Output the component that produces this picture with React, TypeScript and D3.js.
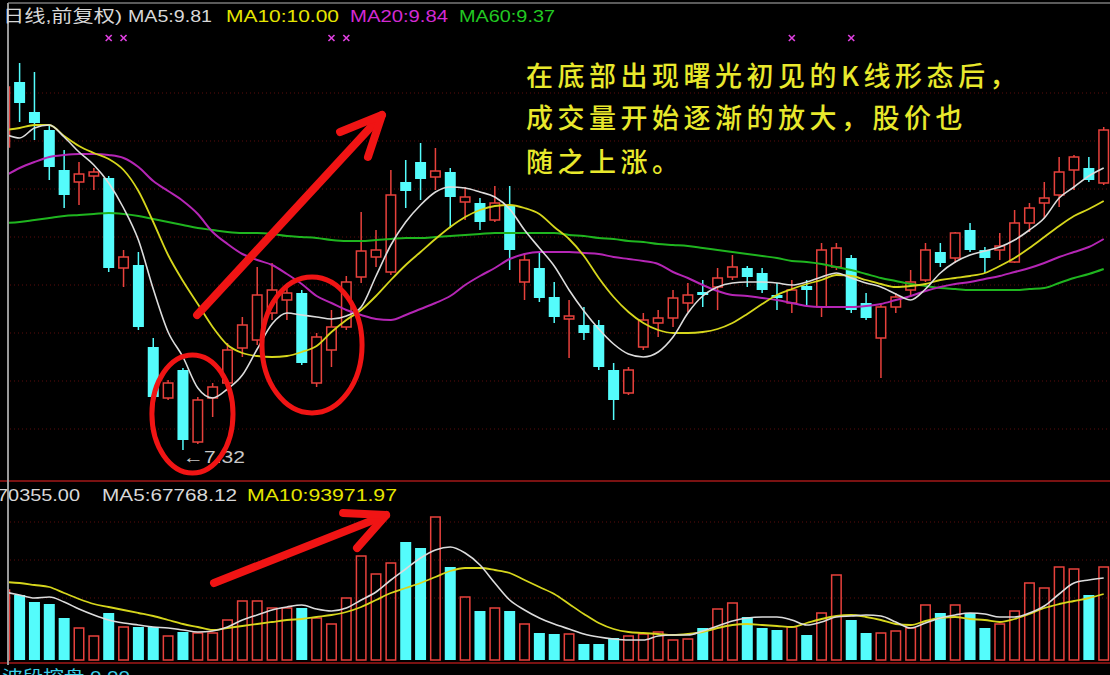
import React, { useEffect, useRef } from 'react';
import * as d3 from 'd3';

// daily bars, oldest first (the first one is cut off by the left frame)
const opens = [10.35, 11.0, 10.7, 10.52, 10.12, 10.0, 10.06, 10.04, 9.14, 9.17, 8.35, 7.84, 8.12, 7.4, 7.84, 7.99, 8.34, 8.42, 8.69, 8.82, 8.89, 7.99, 8.32, 8.55, 9.05, 9.25, 9.1, 10.0, 10.2, 10.05, 10.1, 9.8, 9.79, 9.62, 9.77, 9.0, 9.14, 8.85, 8.63, 8.57, 8.57, 8.12, 7.89, 8.35, 8.59, 8.64, 8.79, 8.9, 8.95, 9.05, 9.14, 9.09, 8.87, 8.79, 8.96, 8.75, 9.15, 9.24, 8.79, 8.44, 8.75, 8.92, 9.02, 9.3, 9.24, 9.52, 9.32, 9.32, 9.2, 9.59, 9.79, 9.87, 10.12, 10.14, 9.99];
const highs = [10.97, 11.19, 11.1, 10.57, 10.32, 10.2, 10.14, 10.06, 9.32, 9.3, 8.44, 8.02, 8.14, 7.85, 7.99, 8.39, 8.65, 9.15, 9.19, 8.95, 8.92, 8.49, 8.72, 9.06, 9.7, 9.52, 10.12, 10.22, 10.39, 10.34, 10.14, 9.95, 9.84, 9.96, 9.96, 9.29, 9.29, 9.0, 8.82, 8.75, 8.62, 8.19, 8.15, 8.69, 8.72, 8.92, 8.99, 9.02, 9.14, 9.27, 9.16, 9.14, 8.99, 9.02, 9.02, 9.39, 9.39, 9.27, 8.89, 8.77, 8.89, 9.12, 9.39, 9.39, 9.5, 9.59, 9.35, 9.49, 9.72, 9.79, 10.0, 10.25, 10.27, 10.25, 10.55];
const lows = [10.32, 10.6, 10.42, 10.02, 9.74, 9.77, 9.92, 9.1, 8.95, 8.52, 7.84, 7.82, 7.32, 7.38, 7.65, 7.95, 8.25, 8.37, 8.62, 8.62, 8.17, 7.95, 8.15, 8.52, 8.99, 9.15, 9.07, 9.74, 9.82, 9.92, 9.54, 9.62, 9.52, 9.6, 9.12, 8.82, 8.8, 8.59, 8.24, 8.42, 8.12, 7.62, 7.87, 8.32, 8.45, 8.55, 8.7, 8.75, 8.72, 9.02, 8.95, 8.89, 8.72, 8.69, 8.75, 8.65, 9.12, 8.69, 8.62, 8.04, 8.69, 8.85, 9.0, 9.15, 9.19, 9.3, 9.09, 9.22, 9.19, 9.5, 9.64, 9.75, 9.92, 10.0, 9.97];
const closes = [10.95, 10.79, 10.59, 10.15, 9.87, 10.08, 10.1, 9.14, 9.25, 8.55, 7.85, 7.99, 7.42, 7.82, 7.95, 8.32, 8.57, 8.87, 8.92, 8.89, 8.19, 8.45, 8.55, 9.0, 9.31, 9.32, 9.87, 9.91, 10.03, 10.11, 9.85, 9.85, 9.6, 9.79, 9.32, 9.22, 8.84, 8.65, 8.66, 8.49, 8.15, 7.82, 8.12, 8.62, 8.64, 8.84, 8.87, 8.87, 9.04, 9.15, 9.05, 8.92, 8.84, 8.92, 8.92, 9.32, 9.34, 8.72, 8.64, 8.75, 8.85, 9.0, 9.32, 9.19, 9.49, 9.32, 9.24, 9.36, 9.59, 9.74, 9.84, 10.1, 10.25, 10.02, 10.52];
const volumes = [105000, 97500, 87000, 84000, 63000, 48000, 36000, 70500, 49500, 49500, 49500, 36000, 42000, 40500, 40500, 60000, 88500, 88500, 78000, 78000, 78000, 63000, 54000, 93000, 156000, 129000, 145500, 177000, 168000, 214500, 139500, 94500, 73500, 78000, 73500, 54000, 40500, 39000, 39000, 24000, 24000, 33000, 36000, 39000, 42000, 30000, 31500, 48000, 76500, 85500, 64500, 48000, 45000, 49500, 37500, 70500, 127500, 60000, 40500, 40500, 43500, 48000, 82500, 70500, 82500, 70500, 48000, 54000, 73500, 115500, 108000, 139500, 136500, 97500, 139500];

// moving averages
const ma5 = [10.48, 10.44, 10.54, 10.57, 10.45, 10.3, 10.17, 9.99, 9.74, 9.42, 8.93, 8.5, 8.25, 7.94, 7.84, 7.93, 8.07, 8.33, 8.58, 8.69, 8.67, 8.65, 8.63, 8.66, 8.75, 9.06, 9.37, 9.6, 9.77, 9.9, 9.95, 9.94, 9.9, 9.85, 9.73, 9.52, 9.34, 9.16, 8.92, 8.71, 8.53, 8.38, 8.28, 8.25, 8.3, 8.45, 8.69, 8.86, 8.95, 8.99, 9.0, 9.0, 8.99, 8.97, 9.0, 9.05, 9.09, 9.04, 8.99, 8.95, 8.88, 8.82, 8.93, 9.09, 9.2, 9.27, 9.31, 9.35, 9.42, 9.52, 9.64, 9.84, 9.95, 10.06, 10.14];
const ma10 = [10.52, 10.54, 10.57, 10.57, 10.46, 10.36, 10.29, 10.23, 10.12, 9.91, 9.6, 9.27, 9.01, 8.78, 8.55, 8.37, 8.29, 8.26, 8.25, 8.26, 8.3, 8.36, 8.5, 8.62, 8.72, 8.86, 9.02, 9.17, 9.3, 9.43, 9.55, 9.65, 9.72, 9.76, 9.77, 9.74, 9.68, 9.55, 9.43, 9.26, 9.04, 8.85, 8.7, 8.59, 8.52, 8.49, 8.49, 8.5, 8.53, 8.59, 8.68, 8.78, 8.87, 8.93, 8.98, 9.02, 9.07, 9.06, 9.02, 8.98, 8.95, 8.96, 8.98, 9.02, 9.04, 9.06, 9.09, 9.16, 9.24, 9.34, 9.45, 9.56, 9.66, 9.73, 9.81];
const ma20 = [10.06, 10.14, 10.2, 10.25, 10.27, 10.28, 10.28, 10.27, 10.24, 10.15, 10.01, 9.91, 9.81, 9.68, 9.5, 9.38, 9.28, 9.22, 9.17, 9.08, 8.98, 8.86, 8.79, 8.72, 8.67, 8.63, 8.62, 8.67, 8.73, 8.79, 8.86, 8.97, 9.06, 9.14, 9.23, 9.28, 9.3, 9.3, 9.3, 9.29, 9.28, 9.25, 9.23, 9.21, 9.18, 9.1, 9.04, 8.97, 8.91, 8.87, 8.86, 8.84, 8.82, 8.79, 8.76, 8.75, 8.75, 8.75, 8.76, 8.78, 8.82, 8.86, 8.91, 8.95, 8.98, 9.0, 9.03, 9.06, 9.1, 9.14, 9.19, 9.25, 9.3, 9.35, 9.43];
const ma60 = [9.59, 9.6, 9.62, 9.64, 9.66, 9.67, 9.68, 9.69, 9.68, 9.66, 9.63, 9.6, 9.57, 9.54, 9.52, 9.5, 9.49, 9.49, 9.48, 9.46, 9.45, 9.44, 9.42, 9.41, 9.41, 9.42, 9.43, 9.44, 9.44, 9.45, 9.46, 9.47, 9.48, 9.49, 9.49, 9.49, 9.49, 9.49, 9.47, 9.46, 9.44, 9.43, 9.41, 9.4, 9.38, 9.37, 9.36, 9.34, 9.32, 9.3, 9.28, 9.26, 9.24, 9.21, 9.2, 9.18, 9.15, 9.12, 9.08, 9.04, 9.01, 8.98, 8.96, 8.94, 8.93, 8.92, 8.92, 8.92, 8.92, 8.93, 8.94, 8.99, 9.04, 9.08, 9.13];
const volMa5 = [102000, 97500, 93000, 94500, 87000, 76500, 67500, 60000, 55500, 52500, 49500, 48000, 45000, 42000, 43500, 49500, 60000, 67500, 75000, 79500, 82500, 76500, 73500, 78000, 90000, 102000, 120000, 136500, 153000, 165000, 169500, 160500, 142500, 115500, 90000, 75000, 63000, 54000, 46500, 39000, 34500, 31500, 30000, 30000, 36000, 37500, 37500, 43500, 51000, 58500, 63000, 64500, 64500, 60000, 52500, 57000, 64500, 66000, 67500, 66000, 57000, 48000, 55500, 63000, 67500, 70500, 69000, 64500, 64500, 70500, 81000, 99000, 115500, 120000, 123000];
const volMa10 = [117000, 115500, 112500, 109500, 100500, 91500, 84000, 79500, 75000, 70500, 66000, 60000, 54000, 49500, 45000, 48000, 51000, 54000, 57000, 60000, 61500, 64500, 67500, 72000, 79500, 90000, 100500, 108000, 115500, 124500, 133500, 138000, 138000, 135000, 130500, 120000, 109500, 99000, 84000, 69000, 55500, 46500, 42000, 40500, 39000, 37500, 39000, 42000, 48000, 52500, 54000, 52500, 51000, 49500, 55500, 61500, 66000, 67500, 64500, 60000, 54000, 52500, 58500, 63000, 64500, 61500, 60000, 57000, 61500, 69000, 78000, 84000, 88500, 93000, 99000];

const title = '日线,前复权)';
const priceLegend = ['MA5:9.81', 'MA10:10.00', 'MA20:9.84', 'MA60:9.37'];
const volLegend = ['70355.00', 'MA5:67768.12', 'MA10:93971.97'];
const bottomLabel = '波段控盘 0.00';
const signalBars = [7, 8, 22, 23, 53, 57];
const lowBar = 12;
const lowLabel = '←7.32';
const gridPrices = [10.89, 10.41, 9.93, 9.45, 8.97, 8.49, 8.01, 7.53];
const gridVolumes = [207000, 150000, 93000];
const noteLines = ['在底部出现曙光初见的K线形态后，', '成交量开始逐渐的放大，股价也', '随之上涨。'];

// hand-drawn marks, in bar index / price (or volume) units
const rings = [
  { bar: 12.64, price: 7.68, rBars: 2.73, rPrice: 0.59 },
  { bar: 20.69, price: 8.37, rBars: 3.37, rPrice: 0.68 },
];
const priceArrow = { from: [12.95, 8.67], to: [25.4, 10.67], wingA: [22.58, 10.5], wingB: [24.46, 10.25] };
const volArrow = { from: [14.09, 115500], to: [25.68, 217500], wingA: [22.78, 220500], wingB: [23.72, 168000] };

const App: React.FC = () => {
  const d3Container = useRef<SVGSVGElement>(null);

  useEffect(() => {
    if (!d3Container.current) return;
    const svg = d3.select(d3Container.current);
    svg.selectAll('*').remove();

    const width = 1110;
    const height = 675;
    const upColor = '#e8413c';
    const downColor = '#54fcfc';
    const n = closes.length;
    const bodyW = 11;
    const latin = '"Liberation Sans", Arial, "Noto Sans CJK SC", sans-serif';

    // scales
    const x = d3.scaleLinear().domain([0, n - 1]).range([4.75, 1103.7]);
    const y = d3.scaleLinear().domain([7.02, 11.52]).range([480, 30]);
    const yVol = d3.scaleLinear().domain([0, 265500]).range([660, 483]);

    svg.append('rect').attr('width', width).attr('height', height).attr('fill', '#000');

    const defs = svg.append('defs');
    defs.append('clipPath').attr('id', 'clip-price')
      .append('rect').attr('x', 9).attr('y', 26).attr('width', width - 9).attr('height', 454);
    defs.append('clipPath').attr('id', 'clip-vol')
      .append('rect').attr('x', 9).attr('y', 483).attr('width', width - 9).attr('height', 179);

    // dotted grid
    const grid = svg.append('g').attr('stroke', '#5c0c0c').attr('stroke-dasharray', '1,3');
    gridPrices.forEach((p) => {
      grid.append('line').attr('x1', 10).attr('x2', width).attr('y1', y(p)).attr('y2', y(p));
    });
    gridVolumes.forEach((v) => {
      grid.append('line').attr('x1', 10).attr('x2', width).attr('y1', yVol(v)).attr('y2', yVol(v));
    });

    // frame
    svg.append('line').attr('x1', 8).attr('x2', width).attr('y1', 3).attr('y2', 3)
      .attr('stroke', '#7a7a7a').attr('stroke-width', 1.5);
    svg.append('line').attr('x1', 0).attr('x2', width).attr('y1', 481).attr('y2', 481)
      .attr('stroke', '#7a1212').attr('stroke-width', 2);
    svg.append('line').attr('x1', 0).attr('x2', width).attr('y1', 663).attr('y2', 663)
      .attr('stroke', '#7a1212').attr('stroke-width', 2);

    const bars = d3.range(n).map((i) => ({
      i,
      o: opens[i],
      h: highs[i],
      l: lows[i],
      c: closes[i],
      v: volumes[i],
      up: closes[i] >= opens[i],
    }));

    // candles
    const pricePane = svg.append('g').attr('clip-path', 'url(#clip-price)');
    bars.forEach((d) => {
      const cx = x(d.i);
      const top = y(Math.max(d.o, d.c));
      const bottom = y(Math.min(d.o, d.c));
      const bodyH = Math.max(bottom - top, 1.5);
      if (d.up) {
        pricePane.append('line').attr('x1', cx).attr('x2', cx).attr('y1', y(d.h)).attr('y2', top)
          .attr('stroke', upColor).attr('stroke-width', 1.5);
        pricePane.append('line').attr('x1', cx).attr('x2', cx).attr('y1', top + bodyH).attr('y2', y(d.l))
          .attr('stroke', upColor).attr('stroke-width', 1.5);
        pricePane.append('rect')
          .attr('x', cx - bodyW / 2 + 0.75).attr('y', top)
          .attr('width', bodyW - 1.5).attr('height', bodyH)
          .attr('fill', '#000').attr('stroke', upColor).attr('stroke-width', 1.5);
      } else {
        pricePane.append('line').attr('x1', cx).attr('x2', cx).attr('y1', y(d.h)).attr('y2', y(d.l))
          .attr('stroke', downColor).attr('stroke-width', 1.5);
        pricePane.append('rect')
          .attr('x', cx - bodyW / 2).attr('y', top)
          .attr('width', bodyW).attr('height', bodyH)
          .attr('fill', downColor);
      }
    });

    // moving averages
    const priceLine = d3.line<number>().x((_, i) => x(i)).y((d) => y(d)).curve(d3.curveMonotoneX);
    const maSeries: [number[], string, number][] = [
      [ma60, '#1fb51f', 2],
      [ma20, '#b526b5', 2],
      [ma10, '#d6d61c', 1.8],
      [ma5, '#dcdcdc', 1.6],
    ];
    maSeries.forEach(([vals, color, w]) => {
      pricePane.append('path').attr('d', priceLine(vals)).attr('fill', 'none')
        .attr('stroke', color).attr('stroke-width', w);
    });

    // volume bars
    const volPane = svg.append('g').attr('clip-path', 'url(#clip-vol)');
    bars.forEach((d) => {
      const cx = x(d.i);
      const top = yVol(d.v);
      if (d.up) {
        volPane.append('rect')
          .attr('x', cx - bodyW / 2 + 0.75).attr('y', top)
          .attr('width', bodyW - 1.5).attr('height', yVol(0) - top)
          .attr('fill', 'none').attr('stroke', upColor).attr('stroke-width', 1.5);
      } else {
        volPane.append('rect')
          .attr('x', cx - bodyW / 2).attr('y', top)
          .attr('width', bodyW).attr('height', yVol(0) - top)
          .attr('fill', downColor);
      }
    });
    const volLine = d3.line<number>().x((_, i) => x(i)).y((d) => yVol(d)).curve(d3.curveMonotoneX);
    volPane.append('path').attr('d', volLine(volMa10)).attr('fill', 'none')
      .attr('stroke', '#d6d61c').attr('stroke-width', 1.8);
    volPane.append('path').attr('d', volLine(volMa5)).attr('fill', 'none')
      .attr('stroke', '#dcdcdc').attr('stroke-width', 1.6);

    // left frame line on top of the cut bar
    svg.append('line').attr('x1', 8).attr('x2', 8).attr('y1', 3).attr('y2', 665)
      .attr('stroke', '#9a9a9a').attr('stroke-width', 2);

    // signal marks
    signalBars.forEach((b) => {
      const cx = x(b);
      svg.append('path')
        .attr('d', `M${cx - 3},35 L${cx + 3},41 M${cx + 3},35 L${cx - 3},41`)
        .attr('stroke', '#e040e0').attr('stroke-width', 1.6);
    });

    // headers
    const header = (txt: string, tx: number, ty: number, w: number, color: string) => {
      svg.append('text').attr('x', tx).attr('y', ty).text(txt)
        .attr('fill', color).attr('font-size', 17).attr('font-family', latin)
        .attr('textLength', w).attr('lengthAdjust', 'spacingAndGlyphs');
    };
    header(title, 3, 22, 119, '#d8d8d8');
    header(priceLegend[0], 128, 22, 84, '#d8d8d8');
    header(priceLegend[1], 226, 22, 113, '#e6e600');
    header(priceLegend[2], 350, 22, 98, '#d22ad2');
    header(priceLegend[3], 459, 22, 96, '#22c822');
    header(volLegend[0], -3, 501, 83, '#d8d8d8');
    header(volLegend[1], 102, 501, 135, '#d8d8d8');
    header(volLegend[2], 247, 501, 150, '#e6e600');
    header(bottomLabel, 2, 683, 128, '#3cd0e8');

    // lowest price label
    svg.append('text').attr('x', x(lowBar)).attr('y', y(lows[lowBar]) + 13).text(lowLabel)
      .attr('fill', '#c8c8c8').attr('font-size', 17).attr('font-family', latin)
      .attr('textLength', 62).attr('lengthAdjust', 'spacingAndGlyphs');

    // red hand-drawn marks
    const marks = svg.append('g').attr('fill', 'none').attr('stroke', '#f01414')
      .attr('stroke-linecap', 'round').attr('stroke-linejoin', 'round');
    rings.forEach((r) => {
      marks.append('ellipse')
        .attr('cx', x(r.bar)).attr('cy', y(r.price))
        .attr('rx', x(r.bar + r.rBars) - x(r.bar))
        .attr('ry', y(r.price - r.rPrice) - y(r.price))
        .attr('stroke-width', 5);
    });
    const drawArrow = (a: typeof priceArrow, sy: (v: number) => number) => {
      const p = (pt: number[]) => `${x(pt[0])},${sy(pt[1])}`;
      marks.append('path').attr('d', `M${p(a.from)} L${p(a.to)}`).attr('stroke-width', 8);
      marks.append('path').attr('d', `M${p(a.wingA)} L${p(a.to)} L${p(a.wingB)}`).attr('stroke-width', 8);
    };
    drawArrow(priceArrow, y);
    drawArrow(volArrow, yVol);

    // note text
    noteLines.forEach((line, k) => {
      svg.append('text').attr('x', 526).attr('y', [86, 128, 172][k]).text(line)
        .attr('fill', '#e8e82c').attr('font-size', 27).attr('font-weight', 500)
        .attr('letter-spacing', 4.5)
        .attr('font-family', '"Noto Sans CJK SC", sans-serif');
    });
  }, []);

  return (
    <svg
      width={1110}
      height={675}
      ref={d3Container}
      style={{ position: 'absolute', left: 0, top: 0, display: 'block' }}
    />
  );
};

export default App;
